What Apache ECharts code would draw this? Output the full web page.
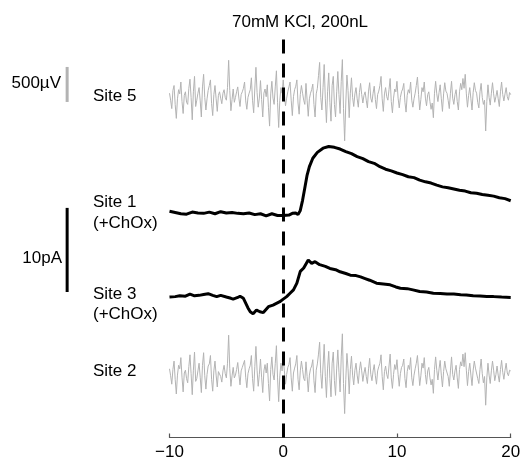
<!DOCTYPE html>
<html>
<head>
<meta charset="utf-8">
<script src="https://cdn.jsdelivr.net/npm/echarts@6/dist/echarts.min.js"></script>
<style>
  html, body { margin: 0; padding: 0; background: #fff; }
  #chart { width: 526px; height: 465px; }
</style>
</head>
<body>
<div id="chart"></div>
<script>
// x axis (s)
const xTicks = [-10, 0, 10, 20];
const stimTime = 0;

// amperometric traces, [time s, change from baseline pA]
const site1 = [
  [-10, 0.2], [-9.5, 0.05], [-9, -0.1], [-8.5, -0.15], [-8, 0.1], [-7.5, 0.0], [-7, -0.05],
  [-6.5, 0.1], [-6, -0.1], [-5.5, 0.15], [-5, 0.0], [-4.5, 0.05], [-4, -0.05], [-3.5, -0.1],
  [-3, 0.0], [-2.5, -0.2], [-2, -0.1], [-1.5, -0.35], [-1, -0.1], [-0.5, -0.3], [0, -0.3],
  [0.5, -0.25], [0.8, -0.05], [1.1, 0.0], [1.3, -0.2], [1.5, 0.3], [1.7, 1.5], [1.9, 3.0],
  [2.1, 4.5], [2.3, 5.5], [2.6, 6.5], [3.0, 7.2], [3.5, 7.7], [4.0, 7.9], [4.5, 7.8],
  [5.0, 7.6], [5.5, 7.3], [6.0, 7.05], [6.5, 6.7], [7.0, 6.45], [7.5, 6.1], [8.0, 5.9],
  [8.5, 5.5], [9.0, 5.2], [9.5, 5.0], [10, 4.75], [10.5, 4.55], [11, 4.3], [11.5, 4.2],
  [12, 3.9], [12.5, 3.7], [13, 3.55], [13.5, 3.3], [14, 3.1], [14.5, 3.0], [15, 2.85],
  [15.5, 2.7], [16, 2.6], [16.5, 2.4], [17, 2.35], [17.5, 2.2], [18, 2.1], [18.5, 2.0],
  [19, 1.8], [19.5, 1.7], [20, 1.45]
];
const site3 = [
  [-10, -0.05], [-9.5, 0.0], [-9.1, 0.1], [-8.6, 0.05], [-8.2, 0.3], [-7.8, 0.1], [-7.4, 0.15],
  [-7.0, 0.25], [-6.6, 0.35], [-6.2, 0.15], [-5.85, 0.0], [-5.5, 0.15], [-5.0, -0.05],
  [-4.6, -0.2], [-4.4, -0.3], [-4.0, -0.1], [-3.8, 0.05], [-3.5, -0.2], [-3.1, -1.35],
  [-2.9, -1.8], [-2.65, -2.05], [-2.35, -1.6], [-2.05, -1.8], [-1.75, -1.9], [-1.3, -1.2],
  [-0.9, -1.0], [-0.3, -0.6], [0.0, -0.3], [0.3, 0.0], [0.6, 0.4], [0.9, 0.8], [1.2, 1.6],
  [1.5, 3.0], [1.8, 3.4], [2.2, 4.35], [2.5, 3.95], [2.8, 4.15], [3.2, 3.8], [3.7, 3.6],
  [4.1, 3.35], [4.6, 3.2], [5.0, 2.95], [5.5, 2.75], [5.9, 2.55], [6.4, 2.5], [6.8, 2.35],
  [7.2, 2.15], [7.6, 1.95], [8.2, 1.6], [8.8, 1.5], [9.4, 1.4], [9.9, 1.15], [10.3, 1.0],
  [10.9, 0.95], [11.4, 0.8], [12.0, 0.6], [12.6, 0.55], [13.2, 0.4], [13.8, 0.38], [14.4, 0.3],
  [15.0, 0.3], [15.6, 0.22], [16.1, 0.2], [16.7, 0.1], [17.3, 0.08], [17.9, 0.02], [18.5, 0.0],
  [19.2, -0.05], [20, -0.1]
];

// field potential noise (uV), sampled every 0.1 s from -10 s
const noiseStart = -10;
const noiseStep = 0.1;
const site5 = [
  40, -60, -180, 80, 150, -120, -320, -40, 90, 30, 200, -80, -250, 10, 60, -90, -120, 110, 240, -20,
  -340, 60, 280, -150, -60, 40, 120, -70, -300, 130, 310, -20, -200, -40, 80, 150, 230, -110, -280, 20,
  150, -40, -220, 10, 60, -30, -110, 40, 90, -20, -60, 120, 510, 80, -210, -50, 100, -90, -20, 60,
  130, -30, -150, 20, 60, 110, 200, -70, -190, -20, 40, 90, 260, -60, -240, 100, 410, 50, -160, -30,
  220, -50, -300, 40, 100, -10, 160, -160, -430, 30, 210, -30, -120, 130, 360, -90, -450, -60, 120, 40,
  230, 20, -140, -30, 60, 130, 200, -60, -280, -10, 90, 140, 230, -100, -260, 20, 150, 40, -60, -120,
  180, -60, -290, -40, 40, 90, 170, -120, -300, 30, 110, 290, 480, -20, -200, 120, 450, -40, -380, 60,
  330, -90, -360, 150, 280, -120, -300, 60, 350, 20, -250, 210, 520, -180, -640, -100, 300, 80, -310, 40,
  260, -20, -150, 30, 120, -40, -160, 50, 180, 20, -100, 10, 60, -60, -170, 70, 190, -30, -90, 40,
  140, -50, -180, 20, 70, 150, 280, -40, -220, 30, 120, -10, -60, 90, 250, -80, -240, -30, 100, 60,
  210, -30, -170, -20, 60, 100, 180, -90, -230, 10, 90, 40, 200, -60, -160, -40, 40, 150, 270, 20,
  -200, -50, 120, 60, 200, -30, -140, 20, 60, -80, -190, -100, -310, 40, 210, 30, -80, 50, 160, -40,
  -220, 30, 190, 70, 40, -60, -180, 40, 210, -30, -120, 20, 90, -80, -200, 60, 180, 90, 250, 110,
  310, 30, -160, 10, 120, -40, -200, 50, 190, 80, 40, -90, -170, 60, 180, -20, -120, -60, -500, -80,
  160, -20, -130, 40, 190, 30, -90, -10, 80, -40, -150, 60, 200, 20, -70, 30, 120, -10, -60, 50, 20
];
const site2 = [
  60, -40, -160, 50, 170, -90, -300, -30, 110, 60, 220, -60, -270, 0, 40, -80, -140, 90, 260, -10,
  -310, 40, 300, -120, -80, 30, 140, -60, -280, 110, 290, -40, -230, -20, 100, 130, 250, -90, -260, 30,
  170, -30, -200, 20, 40, -50, -130, 30, 110, -10, -70, 140, 540, 60, -190, -40, 80, -70, -30, 50,
  150, -20, -170, 30, 80, 100, 180, -60, -210, -10, 60, 110, 250, -80, -260, 90, 380, 40, -190, -20,
  200, -60, -280, 30, 120, 0, 140, -150, -400, 50, 230, -20, -100, 140, 390, -70, -410, -40, 140, 30,
  210, 30, -160, -20, 80, 120, 220, -70, -260, 0, 70, 130, 250, -90, -240, 30, 170, 50, -80, -110,
  160, -50, -270, -30, 60, 100, 190, -110, -280, 40, 130, 270, 440, -10, -220, 100, 410, -50, -350, 70,
  310, -80, -340, 140, 300, -110, -320, 70, 330, 10, -270, 230, 560, -150, -580, -90, 280, 60, -300, 50,
  240, -30, -170, 40, 140, -30, -150, 40, 160, 30, -120, 0, 80, -50, -150, 60, 210, -20, -110, 30,
  120, -40, -160, 30, 90, 140, 260, -50, -240, 20, 100, -20, -80, 100, 270, -70, -220, -20, 120, 50,
  190, -20, -190, -10, 80, 110, 200, -80, -210, 20, 110, 50, 220, -70, -180, -30, 60, 140, 250, 30,
  -180, -40, 140, 70, 220, -20, -160, 30, 80, -70, -170, -90, -290, 50, 230, 40, -100, 60, 180, -30,
  -200, 20, 170, 60, 60, -50, -190, 30, 230, -20, -100, 30, 110, -70, -220, 50, 160, 100, 270, 90,
  290, 40, -180, 20, 140, -30, -180, 40, 170, 70, 60, -80, -150, 50, 200, -10, -140, -50, -460, -70,
  140, -30, -150, 30, 170, 40, -110, -20, 100, -30, -130, 50, 180, 10, -90, 40, 140, 0, -40, 40, 30
];

// scale bars
const barPA = 10;
const barUV = 500;

// layout
const site1Offset = 26.7;
const site3Offset = 16.75;
const barX = -19;
const barPABase = 17.3;
const barUVBase = -85;

const FONT = 'Liberation Sans, Arial, sans-serif';
const GRAY = '#b3b3b3';

const shift = (arr, off) => arr.map(p => [p[0], p[1] + off]);
const noiseXY = arr => arr.map((v, i) => [noiseStart + i * noiseStep, v]);

const gridBase = { left: 169.5, right: 15.3 };
const hiddenX = idx => ({
  type: 'value', gridIndex: idx, min: xTicks[0], max: xTicks[xTicks.length - 1], show: false
});
const label = (id, text, pos) => ({
  type: 'text', id: id, left: pos.left, right: pos.right, top: pos.top,
  style: { text: text, font: '17px ' + FONT, fill: '#000' }
});

const chart = echarts.init(document.getElementById('chart'));
chart.setOption({
  animation: false,
  title: {
    text: '70mM KCl, 200nL',
    left: 227, top: 9,
    textStyle: { fontFamily: FONT, fontSize: 17, fontWeight: 'normal', color: '#000' }
  },
  grid: [
    Object.assign({ top: 38, height: 399.5 }, gridBase),
    Object.assign({ top: 47, height: 98 }, gridBase),
    Object.assign({ top: 324, height: 98 }, gridBase)
  ],
  xAxis: [
    {
      type: 'value', gridIndex: 0,
      min: xTicks[0], max: xTicks[xTicks.length - 1], interval: 10,
      axisLine: { lineStyle: { color: '#555', width: 1.2 } },
      axisTick: { inside: true, length: 4, lineStyle: { color: '#555', width: 1.2 } },
      splitLine: { show: false },
      axisLabel: {
        fontFamily: FONT, fontSize: 17, color: '#000', margin: 6,
        formatter: v => (v < 0 ? '\u2212' + Math.abs(v) : String(v))
      }
    },
    hiddenX(1),
    hiddenX(2)
  ],
  yAxis: [
    { type: 'value', gridIndex: 0, min: 0, max: 47.5, show: false },
    { type: 'value', gridIndex: 1, min: -700, max: 700, show: false },
    { type: 'value', gridIndex: 2, min: -700, max: 700, show: false }
  ],
  graphic: [
    label('s5', 'Site 5', { left: 93, top: 88 }),
    label('s1', 'Site 1', { left: 93, top: 194 }),
    label('s1b', '(+ChOx)', { left: 93, top: 215 }),
    label('s3', 'Site 3', { left: 93, top: 286 }),
    label('s3b', '(+ChOx)', { left: 93, top: 306 }),
    label('s2', 'Site 2', { left: 93, top: 363 }),
    label('uv', '500\u00b5V', { right: 465, top: 75 }),
    label('pa', '10pA', { right: 464, top: 250 })
  ],
  series: [
    {
      type: 'line', xAxisIndex: 1, yAxisIndex: 1, showSymbol: false,
      lineStyle: { color: GRAY, width: 1 }, data: noiseXY(site5)
    },
    {
      type: 'line', xAxisIndex: 2, yAxisIndex: 2, showSymbol: false,
      lineStyle: { color: GRAY, width: 1 }, data: noiseXY(site2)
    },
    {
      type: 'line', xAxisIndex: 0, yAxisIndex: 0, showSymbol: false, z: 3,
      lineStyle: { color: '#000', width: 3 }, data: shift(site1, site1Offset),
      markLine: {
        silent: true, symbol: 'none', label: { show: false },
        lineStyle: { color: '#000', width: 3, type: [14, 10] },
        data: [{ xAxis: stimTime }]
      }
    },
    {
      type: 'line', xAxisIndex: 0, yAxisIndex: 0, showSymbol: false, z: 3,
      lineStyle: { color: '#000', width: 3 }, data: shift(site3, site3Offset)
    }
  ]
});

// scale bars, placed through each grid's own scales
const pa0 = chart.convertToPixel({ gridIndex: 0 }, [barX, barPABase]);
const pa1 = chart.convertToPixel({ gridIndex: 0 }, [barX, barPABase + barPA]);
const uv0 = chart.convertToPixel({ gridIndex: 1 }, [barX, barUVBase]);
const uv1 = chart.convertToPixel({ gridIndex: 1 }, [barX, barUVBase + barUV]);
chart.setOption({
  graphic: [
    { type: 'line', id: 'barPA', shape: { x1: pa0[0], y1: pa0[1], x2: pa1[0], y2: pa1[1] },
      style: { stroke: '#000', lineWidth: 3 } },
    { type: 'line', id: 'barUV', shape: { x1: uv0[0], y1: uv0[1], x2: uv1[0], y2: uv1[1] },
      style: { stroke: GRAY, lineWidth: 3 } }
  ]
});
</script>
</body>
</html>
